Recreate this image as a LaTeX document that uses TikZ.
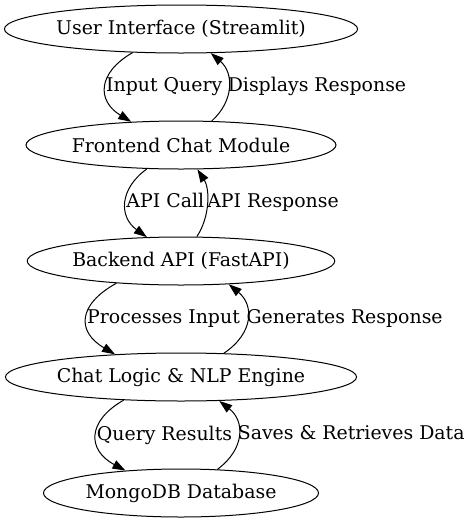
\documentclass[tikz,border=0pt]{standalone}
\usepackage{fontspec}
\setmainfont{DejaVu Serif}
\usetikzlibrary{shapes.geometric,arrows.meta}
\begin{document}
\begin{tikzpicture}[x=1pt,y=-1pt,line width=1pt,>={Triangle[length=13pt,width=9pt]}]
    \tikzstyle{block}=[ellipse,draw=black,inner sep=0pt,minimum height=48pt,font=\fontsize{18.9pt}{23pt}\selectfont]
    \tikzstyle{lbl}=[midway,anchor=west,inner sep=0pt,text height=14pt,text depth=4.5pt,font=\fontsize{18.9pt}{23pt}\selectfont]
    \useasboundingbox (0,0) rectangle (471,523);
    \foreach \name/\y/\w/\txt in {ui/29/352/User Interface (Streamlit), fe/145/310/Frontend Chat Module, be/261/307/Backend API (FastAPI), cl/377/347/Chat Logic \& NLP Engine, db/493/275/MongoDB Database}
            \node[block,minimum width=\w pt] (\name) at (181,\y) {\txt};

        \draw[->] (ui.206) .. controls (97,73) and (97,101) .. (fe.155) node[lbl] (l-iq) {Input Query};
        \draw[->] (fe.38) .. controls (234,101) and (234,73) .. (ui.321) node[lbl,xshift=-1pt] (l-dr) {Displays Response};
        \draw[->] (fe.215) .. controls (119,189) and (119,217) .. (be.145) node[lbl] (l-ac) {API Call};
        \draw[->] (be.57) .. controls (210,217) and (210,189) .. (fe.304) node[lbl] (l-ar) {API Response};
        \draw[->] (be.199) .. controls (77,305) and (77,332) .. (cl.161) node[lbl] (l-pi) {Processes Input};
        \draw[->] (cl.29) .. controls (254,333) and (254,305) .. (be.334) node[lbl,xshift=-1pt] (l-gr) {Generates Response};
        \draw[->] (cl.202) .. controls (87,421) and (87,450) .. (db.158) node[lbl] (l-qr) {Query Results};
        \draw[->] (db.33) .. controls (245,449) and (245,421) .. (cl.328) node[lbl,xshift=-1pt] (l-sr) {Saves \& Retrieves Data};
\end{tikzpicture}
\end{document}
